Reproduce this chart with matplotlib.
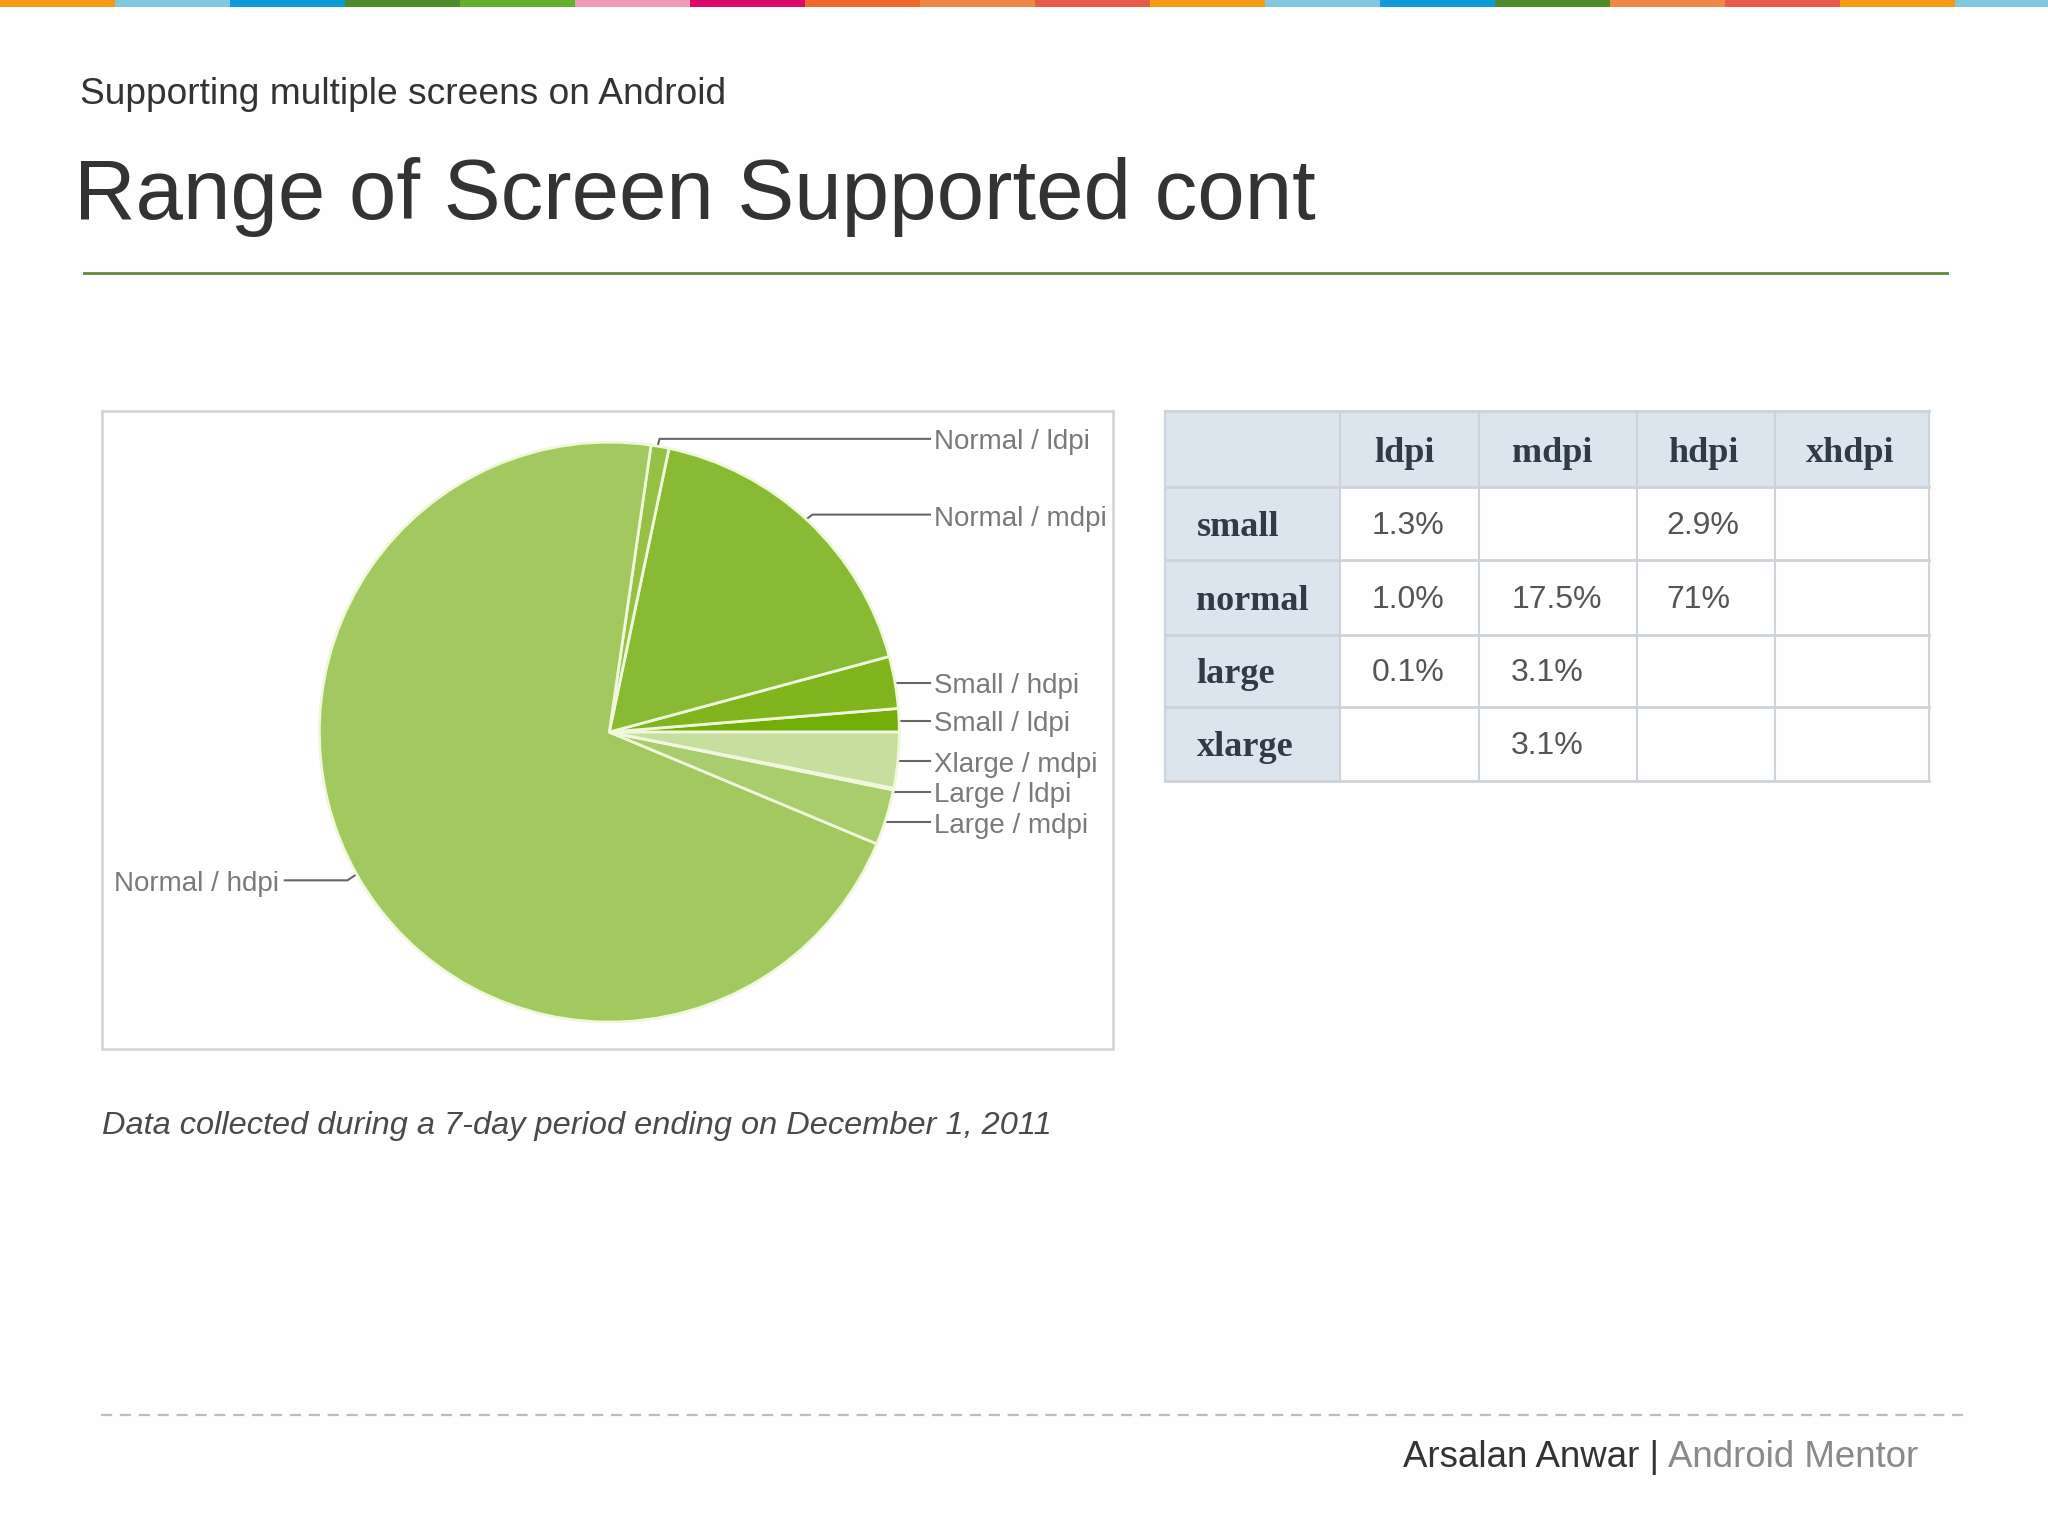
import matplotlib
matplotlib.use('Agg')
from matplotlib import pyplot as plt
from matplotlib.patches import Rectangle

# data
# ====
pie_labels = ['Small / ldpi', 'Small / hdpi', 'Normal / mdpi', 'Normal / ldpi',
              'Normal / hdpi', 'Large / mdpi', 'Large / ldpi', 'Xlarge / mdpi']
pie_values = [1.3, 2.9, 17.5, 1.0, 71, 3.1, 0.1, 3.1]
pie_colors = ['#73AE08', '#80B51E', '#88BB33', '#94C146',
              '#A2C95F', '#A8CD6C', '#B4D57F', '#C6DF9F']

col_labels = ['ldpi', 'mdpi', 'hdpi', 'xhdpi']
row_labels = ['small', 'normal', 'large', 'xlarge']
table_values = [['1.3%', '', '2.9%', ''],
                ['1.0%', '17.5%', '71%', ''],
                ['0.1%', '3.1%', '', ''],
                ['', '3.1%', '', '']]

strip_colors = ['#F39C12', '#7FC8DE', '#0E9BD8', '#4F8A2B', '#62B02C', '#EE9BB5',
                '#D80B6C', '#EE6A2A', '#EE8748', '#E55B47', '#F39C12', '#7FC8DE',
                '#0E9BD8', '#4F8A2B', '#EE8748', '#E55B47', '#F39C12', '#7FC8DE']

plt.rcParams['font.family'] = ['Liberation Sans', 'DejaVu Sans']

W, H = 2048, 1536
S = W / 1568  # coordinates below were measured on the 1568 wide view

fig = plt.figure(figsize=(W / 100, H / 100), dpi=100, facecolor='#FEFEFE')

# slide overlay in pixels
bg = fig.add_axes([0, 0, 1, 1])
bg.set_xlim(0, 1568)
bg.set_ylim(1176, 0)
bg.axis('off')

#%% top colour strip
strip_w = 88.05
for i, c in enumerate(strip_colors):
    bg.add_patch(Rectangle((i * strip_w, 0), strip_w, 5, color=c, lw=0))

#%% header
bg.text(61, 72, 'Supporting multiple screens on Android', fontsize=26.7, color='#333333', va='center')
bg.text(57, 151, 'Range of Screen Supported cont', fontsize=61.4, color='#333333', va='center')
bg.plot([64, 1491], [209, 209], color='#5F8A3A', lw=2)

#%% pie frame
bg.add_patch(Rectangle((78, 315), 774, 488, fc='white', ec='#D2D2D2', lw=1.8))

# pie
cx, cy, r = 466.5, 560.5, 222
ax = fig.add_axes([(cx - r) * S / W, 1 - (cy + r) * S / H, 2 * r * S / W, 2 * r * S / H])
ax.pie(pie_values, colors=pie_colors, startangle=0, counterclock=True, radius=1,
       wedgeprops=dict(edgecolor='#F0F8DC', linewidth=2))
ax.set_xlim(-1, 1)
ax.set_ylim(-1, 1)
for w in ax.patches:
    w.set_clip_on(False)

# leader lines and labels
leaders = {
    'Normal / ldpi': ([503, 505, 712], [343, 336, 336], 715, 338.5),
    'Normal / mdpi': ([618, 622, 712], [397, 394, 394], 715, 397.5),
    'Small / hdpi': ([685, 712], [523, 523], 715, 525.5),
    'Small / ldpi': ([686, 712], [552, 552], 715, 554.5),
    'Xlarge / mdpi': ([686, 712], [583, 583], 715, 585.5),
    'Large / ldpi': ([683, 712], [606, 606], 715, 609),
    'Large / mdpi': ([677, 712], [629, 629], 715, 632.5),
    'Normal / hdpi': ([218, 266, 272], [674, 674, 670], 87, 676.5),
}
for name in pie_labels:
    xs, ys, tx, ty = leaders[name]
    bg.plot(xs, ys, color='#666666', lw=1.5, zorder=5)
    bg.text(tx, ty, name, fontsize=20, color='#7A7A7A', va='center')

#%% table
col_x = [892, 1026, 1132, 1253, 1359, 1477]
row_y = [315, 373, 429, 486, 541, 598]
head_bg = '#DCE5EE'
grid = '#CDD3D8'
bg.add_patch(Rectangle((col_x[0], row_y[0]), col_x[-1] - col_x[0], row_y[1] - row_y[0], fc=head_bg, lw=0))
bg.add_patch(Rectangle((col_x[0], row_y[0]), col_x[1] - col_x[0], row_y[-1] - row_y[0], fc=head_bg, lw=0))
for x in col_x:
    bg.plot([x, x], [row_y[0], row_y[-1]], color=grid, lw=1.5)
for y in row_y:
    bg.plot([col_x[0], col_x[-1]], [y, y], color=grid, lw=2)

header_font = dict(family='Liberation Serif', fontweight='bold', fontsize=26, color='#2F3B47', va='center')
head_x = [1052, 1158, 1277, 1383]
for j, name in enumerate(col_labels):
    bg.text(head_x[j], 347, name, **header_font)
for i, name in enumerate(row_labels):
    bg.text(916, (row_y[i + 1] + row_y[i + 2]) / 2 + 3, name, **header_font)

cell_x = [1050, 1157, 1276, 1383]
for i, row in enumerate(table_values):
    for j, val in enumerate(row):
        if val:
            bg.text(cell_x[j], (row_y[i + 1] + row_y[i + 2]) / 2 + 2, val, fontsize=23, color='#555555', va='center')

#%% caption
bg.text(78, 862, 'Data collected during a 7-day period ending on December 1, 2011',
        fontsize=23.4, style='italic', color='#4A4A4A', va='center')

#%% footer
bg.plot([77, 1503], [1083, 1083], color='#BDBDBD', lw=1.6, dashes=(5, 3.5))
bg.text(1469, 1116, 'Android Mentor', fontsize=26.4, color='#8A8A8A', ha='right', va='center')
bg.text(1270, 1116, 'Arsalan Anwar |', fontsize=26.4, color='#333333', ha='right', va='center')

fig.savefig('out.png', dpi=100, facecolor=fig.get_facecolor())
